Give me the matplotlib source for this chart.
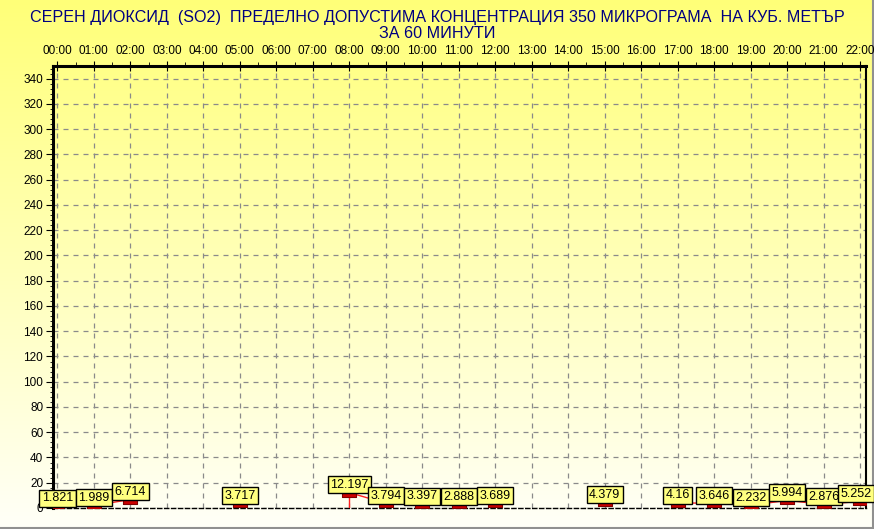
import matplotlib.pyplot as plt
import numpy as np
from matplotlib.colors import LinearSegmentedColormap

# hourly SO2 values, None = no measurement
hours = ["00:00", "01:00", "02:00", "03:00", "04:00", "05:00", "06:00", "07:00",
         "08:00", "09:00", "10:00", "11:00", "12:00", "13:00", "14:00", "15:00",
         "16:00", "17:00", "18:00", "19:00", "20:00", "21:00", "22:00"]
values = [1.821, 1.989, 6.714, None, None, 3.717, None, None,
          12.197, 3.794, 3.397, 2.888, 3.689, None, None, 4.379,
          None, 4.16, 3.646, 2.232, 5.994, 2.876, 5.252]
spike_hour = "08:00"
y_ticks = list(range(0, 341, 20))

title = ("СЕРЕН ДИОКСИД  (SO2)  ПРЕДЕЛНО ДОПУСТИМА КОНЦЕНТРАЦИЯ 350 МИКРОГРАМА  НА КУБ. МЕТЪР\n"
         "ЗА 60 МИНУТИ")

plt.rcParams['font.family'] = ['Liberation Sans', 'DejaVu Sans']

fig = plt.figure(figsize=(8.74, 5.29), dpi=100)

# yellow -> white gradient behind everything
bg = fig.add_axes([0, 0, 1, 1], zorder=-10)
grad = np.linspace(0, 1, 256).reshape(-1, 1)
cmap = LinearSegmentedColormap.from_list("yl", ["#ffff78", "#fffff8"])
bg.imshow(grad, aspect="auto", cmap=cmap, extent=[0, 1, 0, 1], origin="upper")
bg.plot([0.9985, 0.9985], [0, 1], color="#909090", lw=1.5)
bg.plot([0, 1], [0.002, 0.002], color="#909090", lw=1.5)
bg.set_xlim(0, 1)
bg.set_ylim(0, 1)
bg.axis("off")

fig.text(0.5, 0.952, title, ha="center", va="center", color="#000080",
         fontsize=11.6, linespacing=1.05)

ax = fig.add_axes([53 / 874, 1 - 508 / 529, 813 / 874, 442 / 529])
ax.set_facecolor("none")

x = np.arange(len(hours))
y = np.array([np.nan if v is None else v for v in values])

ax.plot(x, y, color="#ff2020", lw=1, zorder=3)
si = hours.index(spike_hour)
ax.vlines(x[si], 0, y[si], color="#ff2020", lw=1, zorder=3)
rect = [(-1, -0.6), (1, -0.6), (1, 0.6), (-1, 0.6), (-1, -0.6)]
ax.plot(x, y, ls="none", marker=rect, ms=10, mfc="#cc0000", mec="#800000",
        mew=0.8, zorder=4)

last = max(i for i, v in enumerate(values) if v is not None)
for i, (xi, yi) in enumerate(zip(x, y)):
    if np.isnan(yi):
        continue
    dx = -3 if i == last else 0
    ax.annotate(f"{yi:g}", (xi, yi), xytext=(dx, 5.5), textcoords="offset points",
                ha="center", va="center", fontsize=9, zorder=5,
                bbox=dict(boxstyle="square,pad=0.2", fc="#ffff80", ec="black", lw=1))

ax.set_xlim(-0.12, 22.16)
ax.set_ylim(0, 350)
ax.set_xticks(x)
ax.set_xticklabels(hours)
ax.set_xticks(np.arange(0, 22.01, 0.5), minor=True)
ax.set_yticks(y_ticks)
ax.set_yticks(np.arange(0, 350, 4), minor=True)
ax.xaxis.tick_top()
ax.tick_params(axis="x", which="major", direction="inout", length=7, labelsize=8.5, pad=3)
ax.tick_params(axis="x", which="minor", direction="out", length=3)
ax.tick_params(axis="y", which="major", direction="out", length=5, labelsize=8.5, pad=2)
ax.tick_params(axis="y", which="minor", direction="out", length=2)

ax.grid(True, which="major", color="#8a8a8a", ls=(0, (4, 4)), lw=0.9)
ax.set_axisbelow(True)

ax.spines["left"].set_linewidth(2.2)
ax.spines["top"].set_linewidth(2.2)
ax.spines["right"].set_linewidth(1.5)
ax.spines["bottom"].set_linestyle((0, (3, 2)))
ax.spines["bottom"].set_linewidth(1)

fig.savefig("out.png", dpi=100)
